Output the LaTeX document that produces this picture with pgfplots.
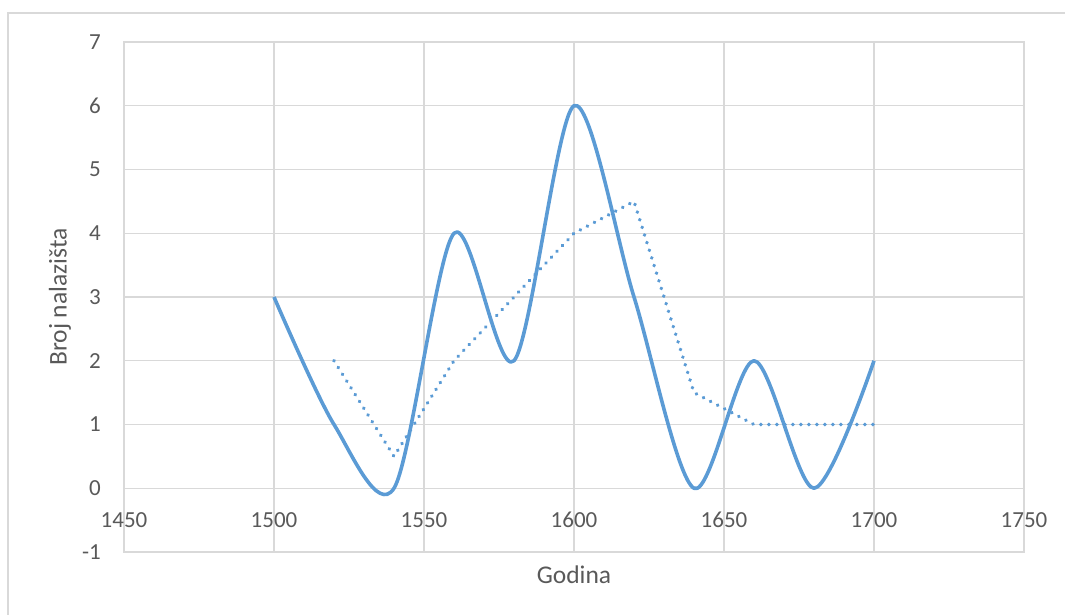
\documentclass[border=0pt]{standalone}
\usepackage{pgfplots}
\pgfplotsset{compat=1.18}
\usepackage{fontspec}
\setmainfont{Carlito}
\definecolor{xlblue}{HTML}{5B9BD5}
\definecolor{xlgrid}{HTML}{D9D9D9}
\definecolor{xlaxis}{HTML}{C8C8C8}
\definecolor{xltext}{HTML}{595959}
\begin{document}
\begin{tikzpicture}
\path[use as bounding box] (0,0) rectangle (1065pt,615pt);
\draw[color=xlgrid, line width=1.2pt] (8pt,-5pt) -- (8pt,602pt) -- (1075pt,602pt);
\begin{axis}[
  at={(124pt,63pt)}, anchor=south west,
  width=900pt, height=510pt, scale only axis,
  xmin=1450, xmax=1750, ymin=-1, ymax=7,
  xtick={1450,1500,1550,1600,1650,1700,1750},
  xticklabels={1450,1500,1550,1600,1650,1700,1750},
  ytick={-1,0,1,2,3,4,5,6,7},
  yticklabels={-1,0,1,2,3,4,5,6,7},
  major tick length=0pt,
  grid=major,
  major grid style={color=xlgrid, line width=1.2pt},
  axis line style={color=xlgrid, line width=1.2pt},
  tick label style={font=\fontsize{23}{26}\selectfont, color=xltext},
  xticklabel style={anchor=center, yshift=32pt, inner sep=0pt},
  yticklabel style={anchor=east, inner sep=0pt, xshift=-23pt},
  label style={font=\fontsize{25.5}{28}\selectfont, color=xltext},
  xlabel={Godina},
  ylabel={Broj nalazišta},
  xlabel style={at={(axis description cs:0.5,-0.0451)}, anchor=center},
  ylabel style={at={(axis description cs:-0.0711,0.5)}, anchor=center},
  extra y ticks={0}, extra y tick labels={},
  extra y tick style={grid style={color=xlaxis, line width=1.2pt}},
]
\addplot[color=xlblue, line width=3.6pt, smooth, tension=0.5, line join=round] coordinates {
  (1500,3) (1520,1) (1540,0) (1560,4) (1580,2) (1600,6)
  (1620,3) (1640,0) (1660,2) (1680,0) (1700,2)
};
\addplot[color=xlblue, line width=3.8pt, line cap=round, dash pattern=on 0.1pt off 7.9pt] coordinates {
  (1520,2) (1540,0.5) (1560,2) (1580,3) (1600,4) (1620,4.5)
  (1640,1.5) (1660,1) (1680,1) (1700,1)
};
\end{axis}
\end{tikzpicture}
\end{document}
